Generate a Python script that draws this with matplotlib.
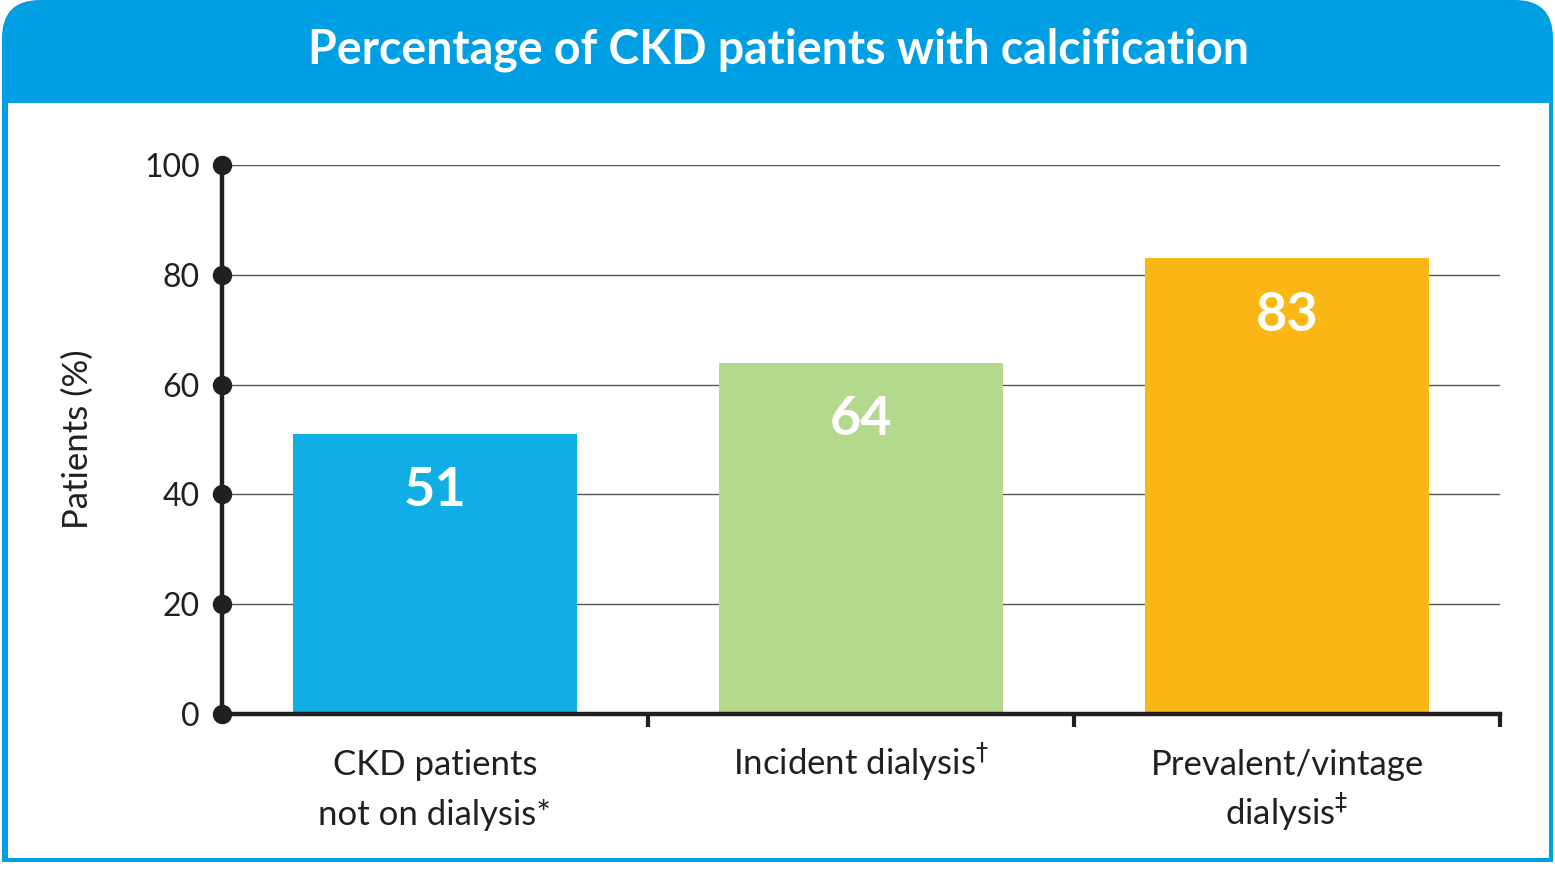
import matplotlib.pyplot as plt
from matplotlib.patches import FancyBboxPatch, Rectangle

categories = [['CKD patients', 'not on dialysis*'],
              ['Incident dialysis$^{\\dagger}$'],
              ['Prevalent/vintage', 'dialysis$^{\\ddagger}$']]
values = [51, 64, 83]
bar_colors = ['#10AEE5', '#B5D98C', '#FBB715']
yticks = [0, 20, 40, 60, 80, 100]

TXT = '#231F20'
BLUE = '#009FE3'

plt.rcParams['font.family'] = ['Lato', 'DejaVu Sans']
plt.rcParams['mathtext.fontset'] = 'dejavusans'

fig = plt.figure(figsize=(15.55, 8.74), dpi=100)

# background frame in pixel coordinates
bg = fig.add_axes([0, 0, 1, 1])
bg.set_xlim(0, 1555)
bg.set_ylim(874, 0)
bg.axis('off')
bg.add_patch(FancyBboxPatch((2, 0), 1551, 120, boxstyle='round,pad=0,rounding_size=38',
                            fc=BLUE, ec='none'))
bg.add_patch(Rectangle((2, 60), 1551, 802, fc=BLUE, ec='none'))
bg.add_patch(Rectangle((8, 103), 1541, 755, fc='white', ec='none'))
bg.text(778, 50, 'Percentage of CKD patients with calcification', color='white',
        fontsize=33.5, fontweight='bold', ha='center', va='center')

ax = fig.add_axes([222 / 1555, 1 - 714 / 874, 1278 / 1555, 549 / 874])
x = range(len(values))
bars = ax.bar(x, values, width=0.665, color=bar_colors, zorder=2)

for i, v in enumerate(values):
    ax.annotate(str(v), (i, v), xytext=(0, -41), textcoords='offset points',
                ha='center', va='center', color='white', fontsize=39, fontweight='bold')

ax.set_xlim(-0.5, 2.5)
ax.set_ylim(0, 100)

ax.set_yticks(yticks)
ax.tick_params(axis='y', length=0, pad=16, labelsize=23, labelcolor=TXT)
for yv in yticks[1:]:
    ax.axhline(yv, color='#555555', lw=1.0, zorder=1)

ax.set_xticks([0.5, 1.5, 2.5])
ax.set_xticklabels([])
ax.tick_params(axis='x', direction='out', length=9, width=3, color=TXT)

# category labels, one text per line on fixed baselines (pixels below the axis)
trans = ax.get_xaxis_transform()
for i, lines in enumerate(categories):
    for j, line in enumerate(lines):
        ax.annotate(line, (i, 0), xycoords=trans,
                    xytext=(0, -(61 + 50 * j) * 0.72), textcoords='offset points',
                    ha='center', va='baseline', fontsize=25, color=TXT)

for s in ['top', 'right']:
    ax.spines[s].set_visible(False)
ax.spines['left'].set_linewidth(3.2)
ax.spines['bottom'].set_linewidth(3.2)
ax.spines['left'].set_color(TXT)
ax.spines['bottom'].set_color(TXT)

ax.plot([-0.5] * len(yticks), yticks, 'o', color=TXT, markersize=13, clip_on=False, zorder=5)

ax.set_ylabel('Patients (%)', fontsize=25, color=TXT, labelpad=36)

fig.savefig('out.png', dpi=100)
